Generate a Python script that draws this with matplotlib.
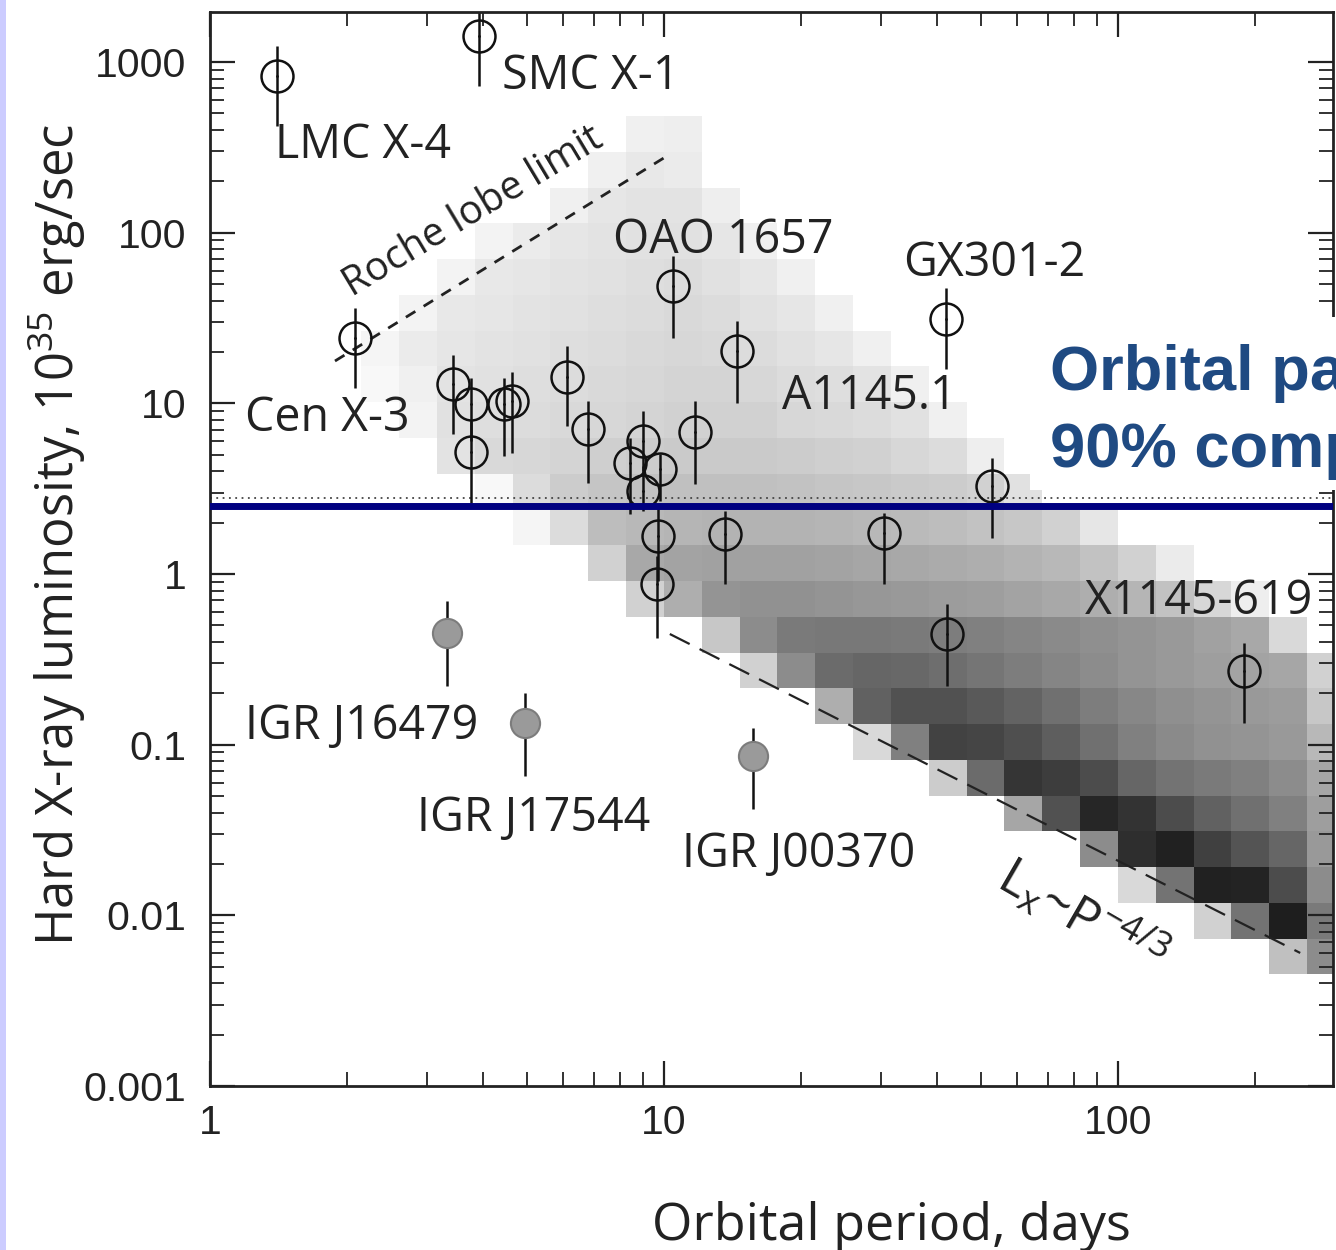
import numpy as np
import matplotlib
matplotlib.use("Agg")
from matplotlib import pyplot as plt
from matplotlib.patches import Rectangle

plt.rcParams['font.family'] = ['Open Sans', 'DejaVu Sans']
plt.rcParams['mathtext.default'] = 'regular'

## Gray-scale map of the population model, one row per luminosity bin (top to bottom).
## row_start = index of first filled period bin (bins are 1/12 dex wide, starting at P=1)
## row_gray  = gray level of each filled cell (1 = white, 0 = black)
row_start = [11, 10, 9, 7, 6, 5, 4, 4, 5, 6, 7, 8, 10, 11, 13, 14, 16, 17, 19, 21, 23, 24, 26, 28]
row_gray = [
    [0.94, 0.93],
    [0.94, 0.91, 0.92],
    [0.94, 0.90, 0.89, 0.89, 0.93],
    [0.95, 0.92, 0.90, 0.89, 0.88, 0.88, 0.90, 0.94],
    [0.95, 0.91, 0.90, 0.89, 0.88, 0.87, 0.86, 0.88, 0.90, 0.94],
    [0.95, 0.91, 0.90, 0.89, 0.88, 0.87, 0.86, 0.85, 0.86, 0.88, 0.90, 0.94],
    [0.96, 0.92, 0.90, 0.89, 0.88, 0.87, 0.86, 0.85, 0.84, 0.85, 0.86, 0.88, 0.90, 0.94],
    [0.97, 0.94, 0.89, 0.88, 0.87, 0.86, 0.85, 0.84, 0.83, 0.83, 0.84, 0.86, 0.87, 0.89, 0.94],
    [0.95, 0.88, 0.87, 0.86, 0.85, 0.84, 0.83, 0.82, 0.82, 0.82, 0.84, 0.85, 0.86, 0.88, 0.94],
    [0.89, 0.85, 0.84, 0.83, 0.81, 0.80, 0.79, 0.79, 0.79, 0.80, 0.81, 0.82, 0.84, 0.86, 0.93],
    [0.97, 0.86, 0.80, 0.77, 0.76, 0.75, 0.75, 0.75, 0.76, 0.77, 0.78, 0.79, 0.80, 0.82, 0.88],
    [0.96, 0.86, 0.74, 0.72, 0.71, 0.70, 0.70, 0.70, 0.71, 0.72, 0.73, 0.74, 0.76, 0.78, 0.82, 0.90],
    [0.82, 0.66, 0.64, 0.63, 0.63, 0.63, 0.64, 0.65, 0.66, 0.67, 0.68, 0.70, 0.72, 0.76, 0.82, 0.92],
    [0.82, 0.68, 0.58, 0.57, 0.57, 0.58, 0.59, 0.60, 0.61, 0.62, 0.64, 0.66, 0.68, 0.71, 0.76, 0.84, 0.93],
    [0.78, 0.55, 0.48, 0.47, 0.47, 0.48, 0.49, 0.50, 0.52, 0.54, 0.56, 0.58, 0.60, 0.63, 0.66, 0.85],
    [0.82, 0.55, 0.42, 0.40, 0.41, 0.43, 0.46, 0.49, 0.52, 0.55, 0.58, 0.60, 0.62, 0.64, 0.65, 0.82],
    [0.68, 0.38, 0.32, 0.32, 0.35, 0.39, 0.44, 0.49, 0.53, 0.56, 0.58, 0.60, 0.61, 0.78],
    [0.85, 0.50, 0.26, 0.27, 0.31, 0.37, 0.44, 0.50, 0.54, 0.57, 0.58, 0.60, 0.72],
    [0.80, 0.42, 0.21, 0.24, 0.30, 0.40, 0.45, 0.48, 0.50, 0.55, 0.65],
    [0.65, 0.32, 0.15, 0.20, 0.30, 0.38, 0.44, 0.50, 0.62],
    [0.55, 0.18, 0.13, 0.25, 0.33, 0.40, 0.60],
    [0.85, 0.45, 0.13, 0.14, 0.30, 0.55],
    [0.82, 0.45, 0.12, 0.48],
    [0.75, 0.55],
]

## observed HMXBs (open circles): period (days), luminosity and error bar ends (1e35 erg/s)
period = [1.405, 3.91, 2.086, 3.425, 3.75, 3.75, 4.44, 4.62, 6.11, 6.81, 9.0, 8.42, 9.8,
          9.0, 9.68, 9.64, 11.7, 10.47, 14.5, 41.8, 52.8, 13.6, 30.5, 42.1, 189.5]
lum = [827, 1419, 24.1, 13.0, 9.87, 5.21, 9.87, 10.3, 14.3, 7.04, 6.01, 4.49, 4.1,
       3.06, 1.67, 0.874, 6.79, 48.7, 20.2, 31.2, 3.28, 1.71, 1.74, 0.445, 0.27]
lum_lo = [421, 722, 12.3, 6.61, 6.0, 2.6, 4.91, 5.12, 7.36, 3.41, 4.0, 2.25, 2.68,
          2.34, 0.91, 0.42, 3.37, 24.1, 10.0, 15.9, 1.63, 0.874, 0.874, 0.221, 0.134]
lum_hi = [1239, 3000, 36.2, 19.2, 14.1, 7.87, 14.1, 15.2, 21.7, 10.3, 9.0, 6.26, 5.05,
          4.29, 2.5, 1.27, 10.3, 72.9, 30.3, 47.4, 4.78, 2.34, 2.28, 0.667, 0.394]

## supergiant fast X-ray transients (gray circles)
sfxt_period = [3.33, 4.94, 15.7]
sfxt_lum = [0.451, 0.134, 0.0859]
sfxt_lo = [0.221, 0.0656, 0.042]
sfxt_hi = [0.695, 0.201, 0.125]

roche_p = [1.885, 10.3]
roche_l = [17.7, 288]
slope_p = [10.3, 252]
slope_l = [0.445, 0.00602]

limit_dotted = 2.79
limit_blue = 2.5

y_ticks = [0.001, 0.01, 0.1, 1, 10, 100, 1000]
y_ticklabels = ['0.001', '0.01', '0.1', '1', '10', '100', '1000']
x_ticks = [1, 10, 100]
x_ticklabels = ['1', '10', '100']

fig = plt.figure(figsize=(13.36, 12.5), dpi=100)
fig.add_artist(Rectangle((0, 0), 6/1336, 1, transform=fig.transFigure,
                         facecolor='#CCCCFF', edgecolor='none'))
ax = fig.add_axes([210/1336, 1-1086/1250, 1123/1336, 1074/1250])
ax.set_xscale('log')
ax.set_yscale('log')

# model map
x_edges = 10**(np.arange(3, 31)/12.0)
y_edges = 10**(-0.041 + 0.2095*np.arange(-11, 14))
grid = np.full((len(y_edges)-1, len(x_edges)-1), np.nan)
nrow = len(row_gray)
for i in range(nrow):
    j0 = row_start[i] - 3
    vals = row_gray[i]
    grid[nrow-1-i, j0:j0+len(vals)] = vals
ax.pcolormesh(x_edges, y_edges, np.ma.masked_invalid(grid), cmap='gray',
              vmin=0, vmax=1, shading='flat', zorder=1)

# lines
ax.plot(roche_p, roche_l, color='#222222', lw=2.0, ls=(0, (4, 3.5)), zorder=3)
ax.plot(slope_p, slope_l, color='#222222', lw=1.6, ls=(0, (10, 5)), zorder=3)
ax.axhline(limit_dotted, color='#444444', lw=1.3, ls=(0, (1, 2.5)), zorder=3)

# sources
lum = np.array(lum)
yerr = [lum - np.array(lum_lo), np.array(lum_hi) - lum]
ax.errorbar(period, lum, yerr=yerr, fmt='o', ms=23, mfc='none', mec='#111111', mew=1.8,
            ecolor='#111111', elinewidth=1.8, capsize=0, zorder=5)
ax.plot(period, lum, '.', color='#111111', ms=2, zorder=6)
sfxt_lum = np.array(sfxt_lum)
sfxt_err = [sfxt_lum - np.array(sfxt_lo), np.array(sfxt_hi) - sfxt_lum]
ax.errorbar(sfxt_period, sfxt_lum, yerr=sfxt_err, fmt='o', ms=21, mfc='#9a9a9a', mec='#7c7c7c',
            mew=1.5, ecolor='#111111', elinewidth=1.8, capsize=0, zorder=5)

ax.axhline(limit_blue, color='#000080', lw=5, zorder=10)

# labels
lab = dict(fontsize=33.5, color='#222222', zorder=7)
ax.text(1.39, 273, 'LMC X-4', **lab)
ax.text(4.40, 694, 'SMC X-1', **lab)
ax.text(1.194, 6.88, 'Cen X-3', **lab)
ax.text(7.72, 75.9, 'OAO 1657', **lab)
ax.text(33.6, 55.7, 'GX301-2', **lab)
ax.text(18.2, 9.26, 'A1145.1', **lab)
ax.text(84.6, 0.583, 'X1145-619', **lab)
ax.text(1.194, 0.108, 'IGR J16479', **lab)
ax.text(2.86, 0.0312, 'IGR J17544', **lab)
ax.text(10.95, 0.0192, 'IGR J00370', **lab)
ax.text(2.055, 41.9, 'Roche lobe limit', fontsize=28.5, color='#222222', rotation=31,
        rotation_mode='anchor', ha='left', va='baseline', zorder=7)
ax.text(53.3, 0.01487, r'L$_{\mathregular{x}}$~P$^{\mathregular{-4/3}}$', fontsize=37,
        color='#222222', rotation=-30, rotation_mode='anchor', ha='left', va='baseline', zorder=7)

ax.set_xlim(1, 297.6)
ax.set_ylim(0.001, 1963)
ax.set_xticks(x_ticks)
ax.set_xticklabels(x_ticklabels)
ax.set_yticks(y_ticks)
ax.set_yticklabels(y_ticklabels)
ax.tick_params(which='both', direction='in', top=True, right=True, colors='#222222')
ax.tick_params(which='major', length=18, width=1.6, labelsize=29.5)
ax.tick_params(axis='y', which='major', pad=17)
ax.tick_params(axis='x', which='major', pad=13)
ax.tick_params(which='minor', length=10, width=1.3)
for lbl in ax.get_xticklabels() + ax.get_yticklabels():
    lbl.set_family(['Liberation Sans', 'DejaVu Sans'])
for s in ax.spines.values():
    s.set_linewidth(2.0)
    s.set_color('#222222')
    s.set_zorder(8)

fig.text(891/1336, 1-1240/1250, 'Orbital period, days', fontsize=37.5, color='#222222',
         ha='center', va='baseline')
fig.text(57/1336, 1-535/1250, r'Hard X-ray luminosity, 10$^{\mathregular{35}}$ erg/sec',
         fontsize=36.5, color='#222222', rotation=90, ha='center', va='center')

# overlaid note box
fig.add_artist(Rectangle((1030/1336, 1-490/1250), 0.25, 173/1250, transform=fig.transFigure,
                         facecolor='white', edgecolor='none', zorder=20))
note = dict(fontsize=45.5, fontweight='bold', color='#1F4A82', family=['Liberation Sans', 'DejaVu Sans'],
            ha='left', va='baseline', zorder=21)
fig.text(1050/1336, 1-390/1250, 'Orbital pa', **note)
fig.text(1050/1336, 1-467/1250, '90% comp', **note)

fig.savefig('out.png', dpi=100)
